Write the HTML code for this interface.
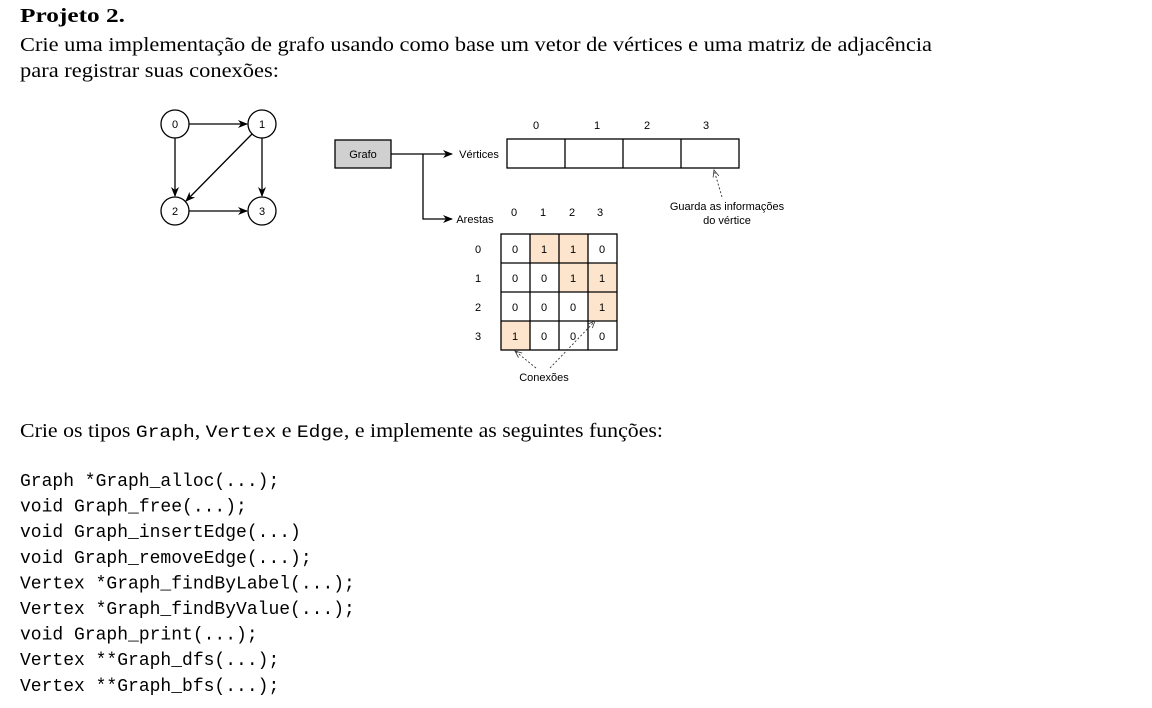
<!DOCTYPE html>
<html><head><meta charset="utf-8"><style>
html,body{margin:0;padding:0;background:#fff;width:1152px;height:708px;overflow:hidden}
</style></head><body>
<svg width="1152" height="708" viewBox="0 0 1152 708" xmlns="http://www.w3.org/2000/svg">
<defs>
<marker id="a" markerWidth="10" markerHeight="8" refX="9" refY="4" orient="auto" markerUnits="userSpaceOnUse"><path d="M0,0 L10,4 L0,8 L3,4 z" fill="#000"/></marker>
<marker id="d" markerWidth="8" markerHeight="8" refX="7" refY="4" orient="auto" markerUnits="userSpaceOnUse"><path d="M0,1 L7,4 L0,7" fill="none" stroke="#333" stroke-width="0.8"/></marker>
</defs>
<g font-family="Liberation Serif, serif" font-size="19.5" fill="#000">
<text x="20" y="22" font-weight="bold" textLength="105" lengthAdjust="spacingAndGlyphs">Projeto 2.</text>
<text x="20" y="51" textLength="912" lengthAdjust="spacingAndGlyphs">Crie uma implementação de grafo usando como base um vetor de vértices e uma matriz de adjacência</text>
<text x="20" y="77" textLength="259" lengthAdjust="spacingAndGlyphs">para registrar suas conexões:</text>
<text x="20" y="437" textLength="643" lengthAdjust="spacingAndGlyphs">Crie os tipos <tspan font-family="Liberation Mono, monospace" font-size="17.5">Graph</tspan>, <tspan font-family="Liberation Mono, monospace" font-size="17.5">Vertex</tspan> e <tspan font-family="Liberation Mono, monospace" font-size="17.5">Edge</tspan>, e implemente as seguintes funções:</text>
</g>
<g font-family="Liberation Mono, monospace" font-size="18" fill="#000">
<text x="20" y="486">Graph *Graph_alloc(...);</text>
<text x="20" y="511.6">void Graph_free(...);</text>
<text x="20" y="537.2">void Graph_insertEdge(...)</text>
<text x="20" y="562.8">void Graph_removeEdge(...);</text>
<text x="20" y="588.4">Vertex *Graph_findByLabel(...);</text>
<text x="20" y="614">Vertex *Graph_findByValue(...);</text>
<text x="20" y="639.6">void Graph_print(...);</text>
<text x="20" y="665.2">Vertex **Graph_dfs(...);</text>
<text x="20" y="690.8">Vertex **Graph_bfs(...);</text>
</g>
<g stroke="#000" stroke-width="1.3" fill="none">
<line x1="189" y1="124" x2="247" y2="124" marker-end="url(#a)"/>
<line x1="175" y1="138" x2="175" y2="196" marker-end="url(#a)"/>
<line x1="262" y1="138" x2="262" y2="196" marker-end="url(#a)"/>
<line x1="189" y1="211" x2="247" y2="211" marker-end="url(#a)"/>
<line x1="252" y1="134" x2="186" y2="201" marker-end="url(#a)"/>
<circle cx="175" cy="124" r="14" fill="#fff"/>
<circle cx="262" cy="124" r="14" fill="#fff"/>
<circle cx="175" cy="211" r="14" fill="#fff"/>
<circle cx="262" cy="211" r="14" fill="#fff"/>
<rect x="335" y="140" width="56" height="28" fill="#d0d0d0"/>
<polyline points="391,154 452,154" marker-end="url(#a)"/>
<polyline points="423,154 423,219 452,219" marker-end="url(#a)"/>
<rect x="530" y="234" width="58" height="29" fill="#fde4cc" stroke="none"/>
<rect x="559" y="263" width="58" height="29" fill="#fde4cc" stroke="none"/>
<rect x="588" y="292" width="29" height="29" fill="#fde4cc" stroke="none"/>
<rect x="501" y="321" width="29" height="29" fill="#fde4cc" stroke="none"/>
<rect x="507" y="139" width="232" height="29"/>
<line x1="565" y1="139" x2="565" y2="168"/><line x1="623" y1="139" x2="623" y2="168"/><line x1="681" y1="139" x2="681" y2="168"/>
<rect x="501" y="234" width="116" height="116"/>
<line x1="530" y1="234" x2="530" y2="350"/><line x1="559" y1="234" x2="559" y2="350"/><line x1="588" y1="234" x2="588" y2="350"/>
<line x1="501" y1="263" x2="617" y2="263"/><line x1="501" y1="292" x2="617" y2="292"/><line x1="501" y1="321" x2="617" y2="321"/>
</g>
<g stroke="#333" stroke-width="0.9" stroke-dasharray="2,2" fill="none">
<line x1="722" y1="197" x2="714" y2="170" marker-end="url(#d)"/>
<line x1="536" y1="368" x2="515" y2="351" marker-end="url(#d)"/>
<line x1="550" y1="368" x2="595" y2="321" marker-end="url(#d)"/>
</g>
<g font-family="Liberation Sans, sans-serif" font-size="11" fill="#000" text-anchor="middle">
<text x="175" y="128">0</text><text x="262" y="128">1</text><text x="175" y="215">2</text><text x="262" y="215">3</text>
<text x="363" y="158">Grafo</text>
<text x="479" y="158">Vértices</text>
<text x="475" y="223">Arestas</text>
<text x="536" y="129">0</text><text x="597" y="129">1</text><text x="647" y="129">2</text><text x="706" y="129">3</text>
<text x="727" y="210">Guarda as informações</text><text x="727" y="224">do vértice</text>
<text x="514" y="216">0</text><text x="543" y="216">1</text><text x="572" y="216">2</text><text x="600" y="216">3</text>
<text x="478" y="253">0</text><text x="478" y="282">1</text><text x="478" y="311">2</text><text x="478" y="340">3</text>
<text x="515" y="253">0</text><text x="544" y="253">1</text><text x="573" y="253">1</text><text x="602" y="253">0</text>
<text x="515" y="282">0</text><text x="544" y="282">0</text><text x="573" y="282">1</text><text x="602" y="282">1</text>
<text x="515" y="311">0</text><text x="544" y="311">0</text><text x="573" y="311">0</text><text x="602" y="311">1</text>
<text x="515" y="340">1</text><text x="544" y="340">0</text><text x="573" y="340">0</text><text x="602" y="340">0</text>
<text x="544" y="381">Conexões</text>
</g>
</svg>
</body></html>
